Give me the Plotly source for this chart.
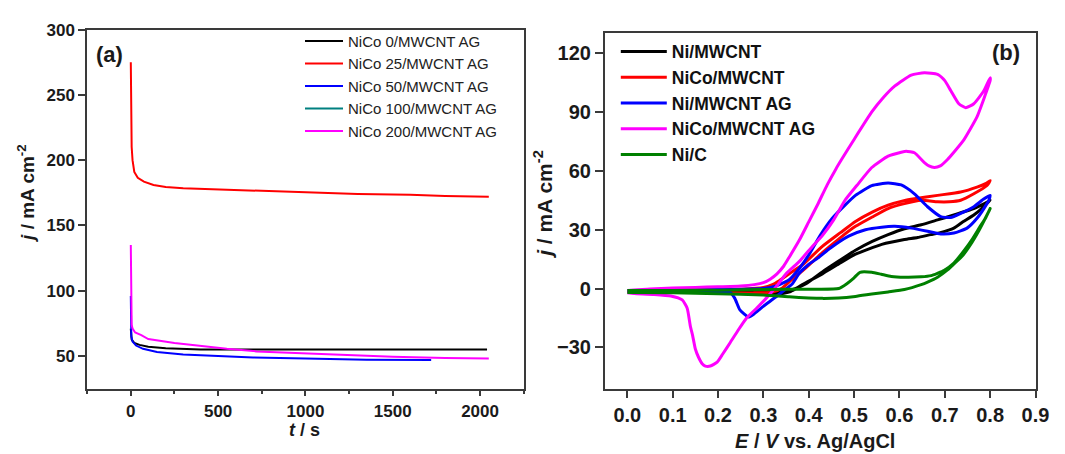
import plotly.graph_objects as go

W, H = 1065, 454
FONT = "Liberation Sans"
AXIS = "#3a3a3a"

# ---------------- (a) chronoamperometry ----------------
t_nico0 = [0, 1, 5, 20, 50, 100, 200, 400, 700, 1000, 1500, 2040]
j_nico0 = [71, 66, 62.5, 60, 58.5, 57, 56, 55, 55, 55, 55, 55]

t_nico25 = [0, 0.5, 2, 5, 10, 20, 40, 75, 130, 200, 300, 500, 700, 1000, 1300, 1600, 1800, 2050]
j_nico25 = [275, 228, 226, 210, 200, 191, 186.5, 183.5, 181, 179.5, 178.5, 177.5, 176.5, 175, 174, 173.5, 172.5, 172]

t_nico50 = [0, 0.5, 3, 10, 30, 70, 150, 300, 500, 700, 1000, 1350, 1720]
j_nico50 = [96, 75, 65, 61, 58, 55.5, 53, 51.2, 50, 48.8, 48, 47.2, 47]

# no visible curve for this sample, only its legend entry
t_nico100 = [None]
j_nico100 = [None]

t_nico200 = [0, 0.5, 2, 5, 10, 25, 60, 100, 250, 400, 550, 720, 1000, 1250, 1500, 1800, 2050]
j_nico200 = [135, 97, 80, 74, 71, 68, 66, 63, 60, 57.5, 55.5, 53.5, 52, 50.5, 49.5, 48.5, 48]

names_a = ["NiCo 0/MWCNT AG", "NiCo 25/MWCNT AG", "NiCo 50/MWCNT AG",
           "NiCo 100/MWCNT AG", "NiCo 200/MWCNT AG"]
colors_a = ["#000000", "#ff0000", "#0000ff", "#008080", "#ff00ff"]
series_a = [(t_nico0, j_nico0), (t_nico25, j_nico25), (t_nico50, j_nico50),
            (t_nico100, j_nico100), (t_nico200, j_nico200)]

# ---------------- (b) cyclic voltammetry ----------------
E_ni_mwcnt = [0.0, 0.1, 0.2, 0.3, 0.35, 0.37, 0.394, 0.43, 0.466, 0.503, 0.54, 0.575, 0.611,
              0.648, 0.684, 0.72, 0.764, 0.785, 0.80,
              0.793, 0.78, 0.764, 0.74, 0.72, 0.69, 0.669, 0.64, 0.611, 0.561, 0.503, 0.466,
              0.43, 0.386, 0.36, 0.33, 0.3, 0.2, 0.1, 0.0]
j_ni_mwcnt = [-1.2, -1.2, -1.3, -1.5, -1.2, 0, 2.5, 8.5, 14, 19.5, 24, 27.5, 30.5,
              32.5, 35, 37.5, 40.8, 43, 45,
              43.5, 40.5, 37.5, 34, 30.8, 28.5, 27.5, 26, 25, 22.5, 17.5, 12.5,
              7.5, 2, -1.5, -2.8, -2.8, -2.2, -1.8, -1.5]

E_nico_mwcnt = [0.0, 0.1, 0.2, 0.25, 0.30, 0.32, 0.335, 0.36, 0.386, 0.43, 0.47, 0.503, 0.54,
                0.575, 0.61, 0.633, 0.684, 0.735, 0.771, 0.79, 0.80,
                0.793, 0.764, 0.735, 0.71, 0.684, 0.648, 0.611, 0.575, 0.54, 0.503, 0.47,
                0.43, 0.386, 0.36, 0.34, 0.32, 0.28, 0.2, 0.1, 0.0]
j_nico_mwcnt = [-1.0, -0.8, -0.5, -0.3, 0.5, 2, 4, 8, 12, 21.5, 28.5, 34.2, 39,
                42.5, 44.8, 45.8, 47.5, 49.2, 51.7, 53.5, 55,
                52.5, 48.3, 45, 44.2, 44.2, 45, 43.3, 40.8, 36.5, 31.7, 26,
                18.3, 9, 4, 0, -1.8, -2.2, -2, -1.6, -1.4]

E_ni_mwcnt_ag = [0.0, 0.05, 0.10, 0.15, 0.20, 0.25, 0.30, 0.33, 0.357, 0.38, 0.401, 0.425,
                 0.452, 0.48, 0.503, 0.539, 0.575, 0.604, 0.633, 0.662, 0.691, 0.713, 0.735,
                 0.764, 0.785, 0.80,
                 0.797, 0.793, 0.771, 0.749, 0.72, 0.691, 0.662, 0.626, 0.59, 0.561, 0.525,
                 0.488, 0.444, 0.423, 0.401, 0.38, 0.364, 0.345, 0.328, 0.299, 0.277, 0.267,
                 0.258, 0.248, 0.237, 0.227, 0.2, 0.1, 0.0]
j_ni_mwcnt_ag = [-1.0, -0.8, -0.7, -0.6, -0.5, -0.4, 0.0, 1.5, 4.5, 10.5, 17.5, 27,
                 35.8, 42.5, 47.5, 52.5, 53.8, 52.8, 48.3, 41.7, 36.7, 36.2, 38.3,
                 41.7, 45.5, 47.5,
                 45, 43.3, 35.8, 30.8, 28.3, 27.8, 29.2, 30.8, 31.7, 31.3, 30,
                 26.7, 20, 16, 12.5, 8, 2.5, -1, -4.2, -9.2, -13.3, -14.5,
                 -13, -10.8, -5, -2, -1.5, -1.4, -1.3]

E_nico_mwcnt_ag = [0.0, 0.05, 0.10, 0.15, 0.20, 0.25, 0.28, 0.30, 0.315, 0.33, 0.345, 0.357,
                   0.38, 0.40, 0.42, 0.441, 0.46, 0.473, 0.50, 0.539, 0.565, 0.59, 0.626,
                   0.655, 0.684, 0.70, 0.713, 0.731, 0.746, 0.764, 0.786, 0.80,
                   0.80, 0.785, 0.771, 0.742, 0.72, 0.706, 0.69, 0.677, 0.665, 0.655, 0.633,
                   0.615, 0.604, 0.575, 0.539, 0.506, 0.48, 0.455, 0.43, 0.408, 0.38, 0.35,
                   0.33, 0.306, 0.285, 0.263, 0.245, 0.227, 0.21, 0.198, 0.183, 0.172, 0.165,
                   0.157, 0.15, 0.144, 0.139, 0.132, 0.121, 0.096, 0.059, 0.015, 0.0]
j_nico_mwcnt_ag = [-1.0, -0.2, 0.3, 0.6, 0.9, 1.3, 2.0, 3.0, 4.8, 7.5, 11.5, 16,
                   25, 34, 43, 53, 61, 66, 76, 90, 97.5, 103.3, 108.8,
                   110, 109.2, 106, 101, 94.2, 92.2, 94.2, 100.8, 107.5,
                   106, 96, 87.5, 75.8, 69.5, 65.8, 62.5, 61.7, 62.5, 64.2, 69.2,
                   70, 69.5, 67.5, 61.7, 52.5, 45, 35, 27, 21.5, 14, 7.5,
                   1.5, -5, -10, -15, -21, -27.5, -33.5, -37.5, -39.5, -39.5, -38.3,
                   -35, -30.8, -24, -19.2, -10, -5.8, -3.8, -3, -2.5, -2.2]

E_ni_c = [0.0, 0.1, 0.2, 0.3, 0.40, 0.466, 0.484, 0.50, 0.513, 0.539, 0.56, 0.582, 0.611,
          0.648, 0.670, 0.684, 0.698, 0.72, 0.742, 0.76, 0.778, 0.79, 0.80,
          0.793, 0.775, 0.757, 0.74, 0.72, 0.706, 0.684, 0.662, 0.648, 0.611, 0.575, 0.539,
          0.503, 0.466, 0.43, 0.40, 0.357, 0.3, 0.2, 0.1, 0.0]
j_ni_c = [-1.0, -1.0, -0.8, -0.5, -0.3, 0, 2.5, 5.5, 8.3, 8.3, 7.3, 6.2, 5.8,
          6, 6.6, 7.8, 9.2, 13, 19.2, 25, 31.7, 36, 40.8,
          37.5, 29.5, 22.5, 17, 12.5, 9.5, 5.8, 3.3, 2.0, -0.5, -1.7, -2.8,
          -4.0, -4.8, -5, -4.8, -4.2, -3.3, -2.6, -2.2, -2.0]

names_b = ["Ni/MWCNT", "NiCo/MWCNT", "Ni/MWCNT AG", "NiCo/MWCNT AG", "Ni/C"]
colors_b = ["#000000", "#ff0000", "#0000ff", "#ff00ff", "#008000"]
series_b = [(E_ni_mwcnt, j_ni_mwcnt), (E_nico_mwcnt, j_nico_mwcnt),
            (E_ni_mwcnt_ag, j_ni_mwcnt_ag), (E_nico_mwcnt_ag, j_nico_mwcnt_ag),
            (E_ni_c, j_ni_c)]

fig = go.Figure()

for i, (name, col, (t, j)) in enumerate(zip(names_a, colors_a, series_a)):
    fig.add_trace(go.Scatter(x=t, y=j, mode="lines", name=name,
                             line=dict(color=col, width=2),
                             xaxis="x", yaxis="y", legend="legend",
                             legendgroup="a%d" % i, showlegend=True))

for i, (name, col, (e, j)) in enumerate(zip(names_b, colors_b, series_b)):
    fig.add_trace(go.Scatter(x=e, y=j, mode="lines", name=name,
                             line=dict(color=col, width=3, shape="spline", smoothing=0.5),
                             xaxis="x2", yaxis="y2", legend="legend2",
                             legendgroup="b%d" % i, showlegend=True))


def px_x(p):
    return p / W


def px_y(p):
    return 1 - p / H


tick_a = dict(family=FONT, size=17, color="#1a1a1a", weight="bold")
tick_b = dict(family=FONT, size=20, color="#1a1a1a", weight="bold")

common = dict(showline=True, linecolor=AXIS, linewidth=1.5, mirror=True,
              showgrid=False, zeroline=False, ticks="outside", tickcolor=AXIS,
              tickwidth=1.5)

fig.update_layout(
    width=W, height=H,
    margin=dict(l=0, r=0, t=0, b=0),
    paper_bgcolor="white", plot_bgcolor="white",
    showlegend=True,
    xaxis=dict(domain=[px_x(88.3), px_x(530.7)], range=[-250, 2250], dtick=500, tick0=0,
               ticklen=6, tickfont=tick_a, anchor="y",
               minor=dict(dtick=250, tick0=-250, ticks="outside", ticklen=4,
                          tickcolor=AXIS, tickwidth=1.5),
               **common),
    yaxis=dict(domain=[px_y(387.3), px_y(21)], range=[25, 300], dtick=50, tick0=0,
               ticklen=7, tickfont=tick_a, anchor="x", **common),
    xaxis2=dict(domain=[px_x(612.7), px_x(1049.3)], range=[-0.05, 0.9], dtick=0.1, tick0=0,
                tickformat=".1f", ticklen=8, tickfont=tick_b, anchor="y2", **common),
    yaxis2=dict(domain=[px_y(387.3), px_y(24)], range=[-51, 130.5], dtick=30, tick0=0,
                ticklen=8, tickfont=tick_b, anchor="x2", **common),
    legend=dict(x=px_x(304), y=px_y(16), xanchor="left", yanchor="top",
                bgcolor="rgba(0,0,0,0)", borderwidth=0, tracegroupgap=0, itemwidth=38,
                font=dict(family=FONT, size=15, color="#222222")),
    legend2=dict(x=px_x(624), y=px_y(25), xanchor="left", yanchor="top",
                 bgcolor="rgba(0,0,0,0)", borderwidth=0, tracegroupgap=0, itemwidth=46,
                 font=dict(family=FONT, size=17.5, color="#111111", weight="bold")),
)

ann = []
ann.append(dict(text="<i>j</i> / mA cm<sup>-2</sup>", x=px_x(27), y=px_y(188), textangle=-90,
                font=dict(family=FONT, size=19, color="#1a1a1a", weight="bold")))
ann.append(dict(text="<i>t</i> / s", x=px_x(309), y=px_y(430),
                font=dict(family=FONT, size=18, color="#1a1a1a", weight="bold")))
ann.append(dict(text="(a)", x=px_x(111), y=px_y(46),
                font=dict(family=FONT, size=22, color="#1a1a1a", weight="bold")))
ann.append(dict(text="<i>j</i> / mA cm<sup>-2</sup>", x=px_x(550), y=px_y(199), textangle=-90,
                font=dict(family=FONT, size=21, color="#1a1a1a", weight="bold")))
ann.append(dict(text="<i>E</i> / <i>V</i> vs. Ag/AgCl", x=px_x(826), y=px_y(441),
                font=dict(family=FONT, size=20, color="#1a1a1a", weight="bold")))
ann.append(dict(text="(b)", x=px_x(1019), y=px_y(44),
                font=dict(family=FONT, size=22, color="#1a1a1a", weight="bold")))
for a in ann:
    a.update(xref="paper", yref="paper", showarrow=False, xanchor="center", yanchor="middle")
fig.update_layout(annotations=ann)

fig.write_html("out.html")
